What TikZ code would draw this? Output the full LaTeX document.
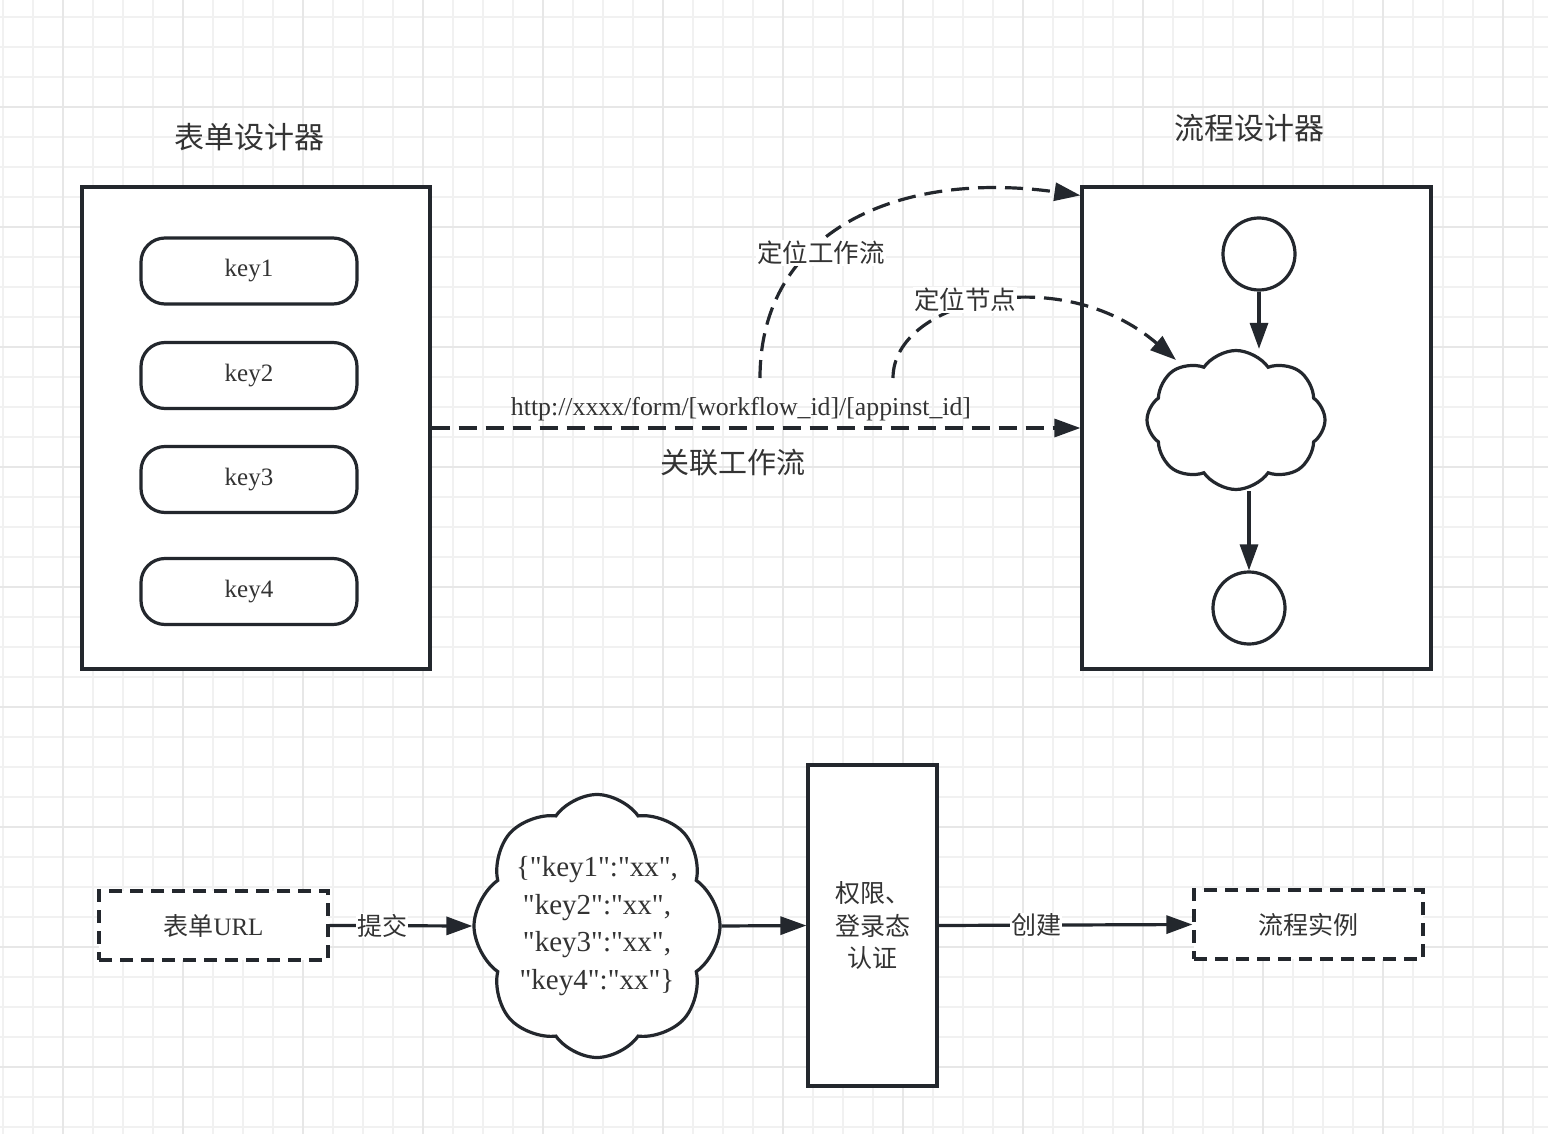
\documentclass[tikz,border=0pt]{standalone}
\usepackage{fontspec}
\setmainfont{Liberation Serif}
\newfontfamily\cjk{Noto Sans CJK SC}
\usetikzlibrary{shapes.symbols,arrows.meta,calc}
\definecolor{ln}{HTML}{23272D}
\definecolor{tx}{HTML}{333333}
\definecolor{gminor}{HTML}{F1F1F1}
\definecolor{gmajor}{HTML}{E7E7E7}
\newcommand{\qd}{\textquotedbl}
\begin{document}
\begin{tikzpicture}[x=1pt,y=-1pt,
  every node/.style={text=tx},
  frame/.style={draw=ln,line width=3.2pt,fill=white,inner sep=0pt},
  pill/.style={frame,rounded corners=24pt,minimum width=216pt,minimum height=66pt,font=\fontsize{25}{30}\selectfont},
  dbox/.style={frame,dash pattern=on 13pt off 8pt,minimum width=229pt,minimum height=69pt,font=\fontsize{25}{30}\selectfont},
  ring/.style={frame,circle,minimum size=72pt},
  puffy/.style={frame,cloud,cloud ignores aspect,cloud puff arc=110},
  tip/.style={-{Triangle[length=26pt,width=18pt]}},
  arr/.style={tip,draw=ln,line width=3.2pt},
  darr/.style={arr,dash pattern=on 18pt off 9pt},
  lbl/.style={font=\fontsize{25}{30}\selectfont,inner sep=1pt},
  title/.style={font=\fontsize{30}{36}\selectfont\cjk}
]
\useasboundingbox (0,0) rectangle (1548,1134);
\fill[white] (0,0) rectangle (1548,1134);
\foreach \x in {3,33,...,1548} \draw[gminor,line width=1.6pt] (\x,0) -- (\x,1134);
\foreach \y in {17,47,...,1134} \draw[gminor,line width=1.6pt] (0,\y) -- (1548,\y);
\foreach \x in {63,183,...,1548} \draw[gmajor,line width=1.8pt] (\x,0) -- (\x,1134);
\foreach \y in {107,227,...,1134} \draw[gmajor,line width=1.8pt] (0,\y) -- (1548,\y);

% titles
\node[title] (t1) at (249,137) {表单设计器};
\node[title] (t2) at (1249,128) {流程设计器};

% left box
\node[frame,minimum width=348pt,minimum height=482pt] (lbox) at (256,428) {};
\node[pill] (k1) at (249,271) {key1};
\node[pill] (k2) at (249,375.5) {key2};
\node[pill] (k3) at (249,479.5) {key3};
\node[pill] (k4) at (249,591.5) {key4};

% right box
\node[frame,minimum width=349pt,minimum height=482pt] (rbox) at (1256.5,428) {};
\node[ring] (c1) at (1259,254) {};
\node[puffy,cloud puffs=8,minimum width=178pt,minimum height=139pt] (cl1) at (1236,420) {};
\node[ring] (c2) at (1249,608) {};
\draw[arr] (c1.south) -- (c1.south |- cl1.north);
\draw[arr] (cl1.south -| c2.north) -- (c2.north);

% URL connector
\draw[darr] (lbox.east) -- (rbox.west);
\node[lbl,font=\fontsize{25.8}{30}\selectfont] (url) at (741,409) {http://xxxx/form/[workflow\_id]/[appinst\_id]};
\node[lbl,font=\fontsize{29}{34}\selectfont\cjk] (rel) at (733,463) {关联工作流};

% curved dashed arrows
\coordinate (s1) at (760,378);
\coordinate (e1) at ($(rbox.north west)+(0,10)$);
\draw[darr] (s1) .. controls (760,230) and (900,170) .. (e1);
\node[lbl,fill=white,font=\fontsize{25.5}{30}\selectfont\cjk] (l1) at (821,253) {定位工作流};
\coordinate (s2) at (893,378);
\coordinate (e2) at (1176,360);
\draw[darr] (s2) .. controls (893,300) and (1060,260) .. (e2);
\node[lbl,fill=white,font=\fontsize{25.5}{30}\selectfont\cjk] (l2) at (965,300) {定位节点};

% bottom flow
\node[dbox] (ub) at (213.5,925.5) {{\cjk 表单}URL};
\node[puffy,cloud puffs=8,inner xsep=-22pt,inner ysep=-30pt,minimum width=246pt,minimum height=263pt,align=center,font=\fontsize{29}{37.7}\selectfont] (cl2) at (597,926)
  {\{\qd key1\qd:\qd xx\qd,\\ \qd key2\qd:\qd xx\qd,\\ \qd key3\qd:\qd xx\qd,\\ \qd key4\qd:\qd xx\qd\}};
\node[frame,minimum width=129pt,minimum height=321pt,align=center,font=\fontsize{25}{32.5}\selectfont\cjk] (auth) at (872.5,925.5) {权限、\\登录态\\认证};
\node[dbox] (inst) at (1308.5,924.5) {\cjk 流程实例};
\draw[arr] (ub.east) -- node[lbl,fill=white,pos=0.37,font=\fontsize{25}{30}\selectfont\cjk] {提交} (cl2.west);
\draw[arr] (cl2.east) -- (auth.west);
\draw[arr] (auth.east) -- node[lbl,fill=white,pos=0.385,font=\fontsize{25}{30}\selectfont\cjk] {创建} (inst.west);
\end{tikzpicture}
\end{document}
